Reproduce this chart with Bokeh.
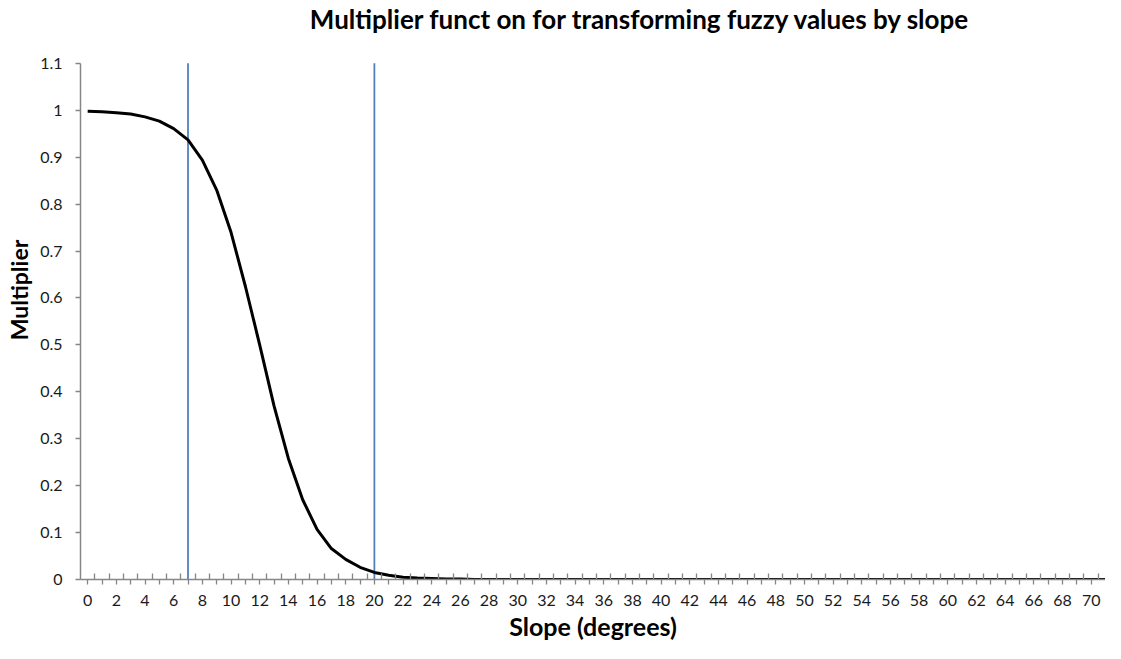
from bokeh.plotting import figure
from bokeh.models import Range1d, FixedTicker, CustomJSTickFormatter, Label
from bokeh.embed import file_html
from bokeh.resources import INLINE

# ---- data ----
slope_deg = list(range(0, 72))
multiplier = [
    0.998, 0.997, 0.995, 0.992, 0.986, 0.977, 0.961, 0.937, 0.894, 0.830,
    0.740, 0.625, 0.500, 0.370, 0.258, 0.170, 0.107, 0.066, 0.043, 0.026,
    0.015, 0.009, 0.005, 0.003, 0.002, 0.001, 0.001, 0.0, 0.0, 0.0,
    0.0, 0.0, 0.0, 0.0, 0.0, 0.0, 0.0, 0.0, 0.0, 0.0,
    0.0, 0.0, 0.0, 0.0, 0.0, 0.0, 0.0, 0.0, 0.0, 0.0,
    0.0, 0.0, 0.0, 0.0, 0.0, 0.0, 0.0, 0.0, 0.0, 0.0,
    0.0, 0.0, 0.0, 0.0, 0.0, 0.0, 0.0, 0.0, 0.0, 0.0,
    0.0, 0.0,
]
threshold_x = [7, 20]
y_ticks = [0, 0.1, 0.2, 0.3, 0.4, 0.5, 0.6, 0.7, 0.8, 0.9, 1.0, 1.1]
x_label_values = [0, 2, 4, 6, 8, 10, 12, 14, 16, 18, 20, 22, 24, 26, 28, 30, 32, 34,
                  36, 38, 40, 42, 44, 46, 48, 50, 52, 54, 56, 58, 60, 62, 64, 66, 68, 70]

TITLE = "Multiplier funct on for transforming fuzzy values by slope"
FONT = "Lato"
AXIS_GRAY = "#868686"
TEXT = "#1a1a1a"

Y_MAX = 1.1
# headroom above the axis top so that the title sits inside the drawing area
Y_VIEW_TOP = 1.234

p = figure(width=1105, height=643, output_backend="svg", toolbar_location=None,
           x_range=Range1d(-0.5, 71.0), y_range=Range1d(0, Y_VIEW_TOP))
p.min_border_left = 80
p.min_border_right = 0
p.min_border_top = 0
p.min_border_bottom = 63
p.outline_line_color = None
p.xgrid.visible = False
p.ygrid.visible = False

# chart title (screen pixels relative to the plot frame)
p.add_layout(Label(x=560, y=561, x_units="screen", y_units="screen", text=TITLE,
                   text_font=FONT, text_font_style="bold", text_font_size="26px",
                   text_color="#000000", text_align="center",
                   text_baseline="alphabetic"))

# threshold lines
p.segment(x0=threshold_x, y0=[0, 0], x1=threshold_x, y1=[Y_MAX, Y_MAX],
          line_color="#4f81bd", line_width=1.8)
# curve
p.line(slope_deg, multiplier, line_color="#000000", line_width=3)

# x axis
xa = p.xaxis[0]
xa.ticker = FixedTicker(ticks=slope_deg[:-1],
                        minor_ticks=[v + 0.5 for v in slope_deg[:-1]])
xa.formatter = CustomJSTickFormatter(
    args=dict(labels=x_label_values),
    code="const t = Math.round(tick); return labels.includes(t) ? String(t) : '';")
xa.axis_line_color = AXIS_GRAY
xa.axis_line_width = 1.5
xa.major_tick_line_color = AXIS_GRAY
xa.minor_tick_line_color = AXIS_GRAY
xa.major_tick_line_width = 1.3
xa.minor_tick_line_width = 1.3
xa.major_tick_in = 0
xa.major_tick_out = 5
xa.minor_tick_in = 6
xa.minor_tick_out = 0
xa.major_label_text_font = FONT
xa.major_label_text_font_size = "16px"
xa.major_label_text_color = TEXT
xa.major_label_standoff = 10
xa.axis_label = "Slope (degrees)"
xa.axis_label_text_font = FONT
xa.axis_label_text_font_style = "bold"
xa.axis_label_text_font_size = "25px"
xa.axis_label_text_color = "#000000"
xa.axis_label_standoff = 2

# y axis
ya = p.yaxis[0]
ya.bounds = (0, Y_MAX)
ya.ticker = FixedTicker(ticks=y_ticks)
ya.formatter = CustomJSTickFormatter(code="return String(Math.round(tick * 10) / 10);")
ya.axis_line_color = AXIS_GRAY
ya.axis_line_width = 1.5
ya.major_tick_line_color = AXIS_GRAY
ya.major_tick_line_width = 1.3
ya.major_tick_in = 0
ya.major_tick_out = 5
ya.minor_tick_line_color = None
ya.major_label_text_font = FONT
ya.major_label_text_font_size = "16px"
ya.major_label_text_color = TEXT
ya.major_label_standoff = 13
ya.axis_label = "Multiplier"
ya.axis_label_text_font = FONT
ya.axis_label_text_font_style = "bold"
ya.axis_label_text_font_size = "23px"
ya.axis_label_text_color = "#000000"
ya.axis_label_standoff = 4

open("out.html", "w").write(file_html(p, INLINE))
